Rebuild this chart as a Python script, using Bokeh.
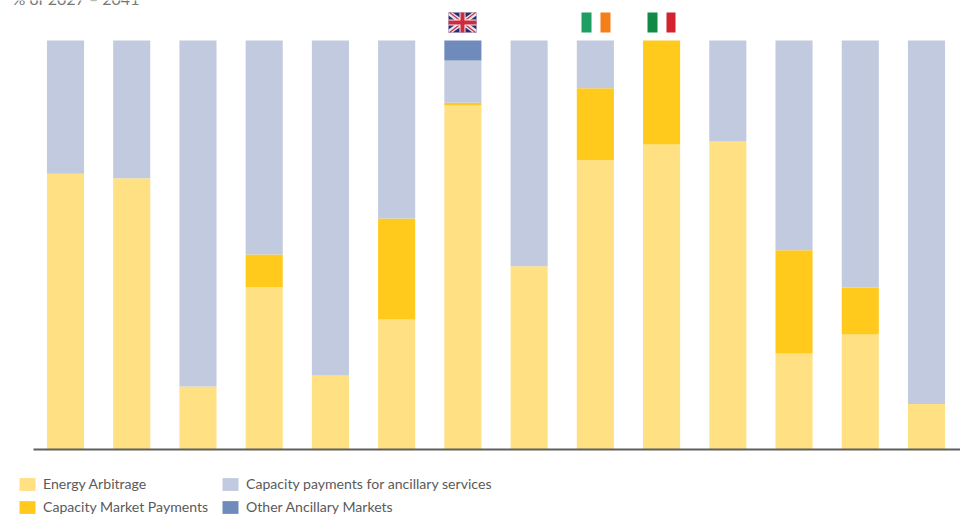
from bokeh.embed import file_html
from bokeh.models import (BoxAnnotation, ColumnDataSource, Label, Legend, LegendItem,
                          PolyAnnotation)
from bokeh.plotting import figure
from bokeh.resources import INLINE

# Share of revenue per market, 2027-2041, in percent
positions = list(range(14))
energy_arbitrage = [67.4, 66.3, 15.4, 39.7, 18.1, 31.8, 84.1, 44.8, 70.7, 74.6, 75.3, 23.5, 28.1, 11.1]
capacity_market = [0, 0, 0, 8.0, 0, 24.7, 0.7, 0, 17.6, 25.4, 0, 25.2, 11.5, 0]
other_ancillary = [0, 0, 0, 0, 0, 0, 4.9, 0, 0, 0, 0, 0, 0, 0]
ancillary_capacity = [100 - a - c - o for a, c, o in zip(energy_arbitrage, capacity_market, other_ancillary)]

series = ["energy", "market", "ancillary", "other"]
labels = ["Energy Arbitrage", "Capacity Market Payments",
          "Capacity payments for ancillary services", "Other Ancillary Markets"]
colors = ["#FFE082", "#FFCA1C", "#C1CADF", "#6F8BBB"]
subtitle = "% of 2027 \u2013 2041"
font = "Lato"
text_color = "#5A5A5A"

WIDTH, HEIGHT = 960, 518
BASELINE, TOP = 449, 40

source = ColumnDataSource(dict(x=positions, energy=energy_arbitrage, market=capacity_market,
                               ancillary=ancillary_capacity, other=other_ancillary))

# The frame fills the page so the flags, subtitle and legend share it with the bars
step = (926 - 65) / 13
units_per_px = 100 / (BASELINE - TOP)
p = figure(width=WIDTH, height=HEIGHT, output_backend="svg", toolbar_location=None,
           x_range=(-65 / step, 13 + (WIDTH - 926) / step),
           y_range=(-(HEIGHT - BASELINE) * units_per_px, BASELINE * units_per_px),
           x_axis_location=None, y_axis_location=None,
           min_border=0, outline_line_color=None,
           background_fill_color="white", border_fill_color="white")
p.grid.visible = False

stack = p.vbar_stack(series, x="x", width=0.56, color=colors, line_color=None, source=source)

# Baseline under the bars, starting a little left of the first one
p.segment(x0=[(33 - 65) / step], x1=[(WIDTH - 65) / step], y0=[0], y1=[0],
          line_color="#5F5F5F", line_width=2)

# Two legend columns beneath the baseline
def legend_column(indices, left):
    p.add_layout(Legend(items=[LegendItem(label=labels[i], renderers=[stack[i]]) for i in indices],
                        location=(left, 3), orientation="vertical",
                        glyph_width=20, glyph_height=16, label_standoff=6, spacing=6,
                        margin=0, padding=0, border_line_color=None, background_fill_alpha=0,
                        label_text_font=font, label_text_font_size="14.1px",
                        label_text_color=text_color), "center")

legend_column([0, 1], 17)
legend_column([2, 3], 220)

p.add_layout(Label(x=12, y=HEIGHT - 7, x_units="screen", y_units="screen", text=subtitle,
                   text_font=font, text_font_size="16px", text_color="#777777"))

# Country flags above their bars; coordinates are pixels from the page's top-left
def stripe(left, right, top, bottom, color):
    p.add_layout(BoxAnnotation(left=left, right=right, top=HEIGHT - top, bottom=HEIGHT - bottom,
                               left_units="screen", right_units="screen",
                               top_units="screen", bottom_units="screen",
                               fill_color=color, fill_alpha=1, line_color=None))

def poly(xs, ys, color):
    p.add_layout(PolyAnnotation(xs=xs, ys=[HEIGHT - y for y in ys], xs_units="screen", ys_units="screen",
                                fill_color=color, fill_alpha=1, line_color=None, line_alpha=0))

stripe(581, 591, 12, 32, "#1E9E62")
stripe(600, 610, 12, 32, "#F47F1A")
stripe(647, 657, 12, 32, "#118A45")
stripe(666, 675, 12, 32, "#D2232F")

# Union flag
l, r, t, b = 448, 476, 12, 32
stripe(l, r, t, b, "#2B2A6B")
poly([l, l + 4, r, r, r - 4, l], [t, t, b - 3, b, b, t + 3], "#E6E6EE")
poly([r, r - 4, l, l, l + 4, r], [t, t, b - 3, b, b, t + 3], "#E6E6EE")
poly([l, l + 2, r, r - 2], [t, t, b, b], "#CF2A3E")
poly([r, r - 2, l, l + 2], [t, t, b, b], "#CF2A3E")
stripe(l, r, 19, 25, "#F0F0F4")
stripe(459, 465, t, b, "#F0F0F4")
stripe(l, r, 20, 24, "#CF2A3E")
stripe(460, 464, t, b, "#CF2A3E")

open("out.html", "w").write(file_html(p, INLINE))
